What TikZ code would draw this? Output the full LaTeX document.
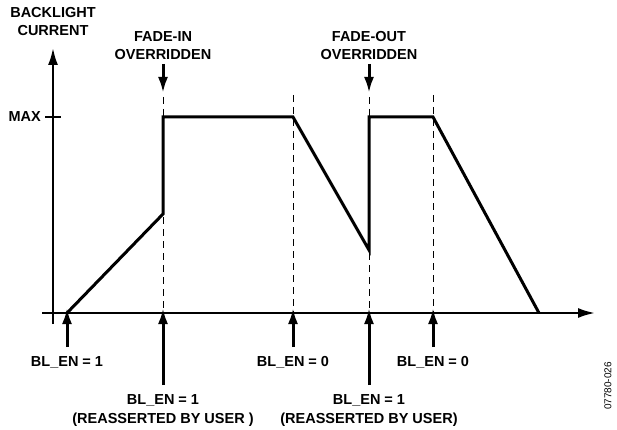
\documentclass[tikz,border=0pt]{standalone}
\usepackage{fontspec}
\setmainfont{Liberation Sans}
\usetikzlibrary{arrows.meta,positioning,calc}
\tikzstyle{lbl} = [font=\bfseries\fontsize{14.5}{19}\selectfont, align=center, inner sep=1pt]
\tikzstyle{curve} = [line width=3pt, line join=miter]
\tikzstyle{axis} = [line width=2.2pt, -{Latex[length=17pt,width=10pt]}]
\tikzstyle{guide} = [line width=1pt, dash pattern=on 7pt off 5pt]
\tikzstyle{marker} = [line width=3pt, -{Latex[length=16pt,width=10pt]}]

\begin{document}
\begin{tikzpicture}[x=1pt, y=-1pt]
    \useasboundingbox (0,0) rectangle (617,430);

    % axes
    \coordinate (ystart) at (53,324);
    \coordinate (ytop) at (53,48);
    \coordinate (xstart) at (42,313);
    \coordinate (xend) at (595,313);
    \draw[axis] (ystart) -- (ytop);
    \draw[axis] (xstart) -- (xend);
    \node[lbl, above=11pt of ytop, font=\bfseries\fontsize{14.5}{18}\selectfont] (ylabel) {BACKLIGHT\\CURRENT};

    \coordinate (maxl) at (45,117);
    \coordinate (maxr) at (61,117);
    \draw[line width=1.2pt] (maxl) -- (maxr);
    \node[lbl, left=3pt of maxl] (maxlabel) {MAX};

    % event times
    \coordinate (t0) at (67,313);
    \coordinate (t1) at (163,313);
    \coordinate (t2) at (293,313);
    \coordinate (t3) at (369,313);
    \coordinate (t4) at (433,313);

    \draw[guide] (163,97) -- (t1);
    \draw[guide] (293,95) -- (t2);
    \draw[guide] (369,97) -- (t3);
    \draw[guide] (433,95) -- (t4);

    % backlight current
    \coordinate (p1) at (163,214);
    \coordinate (p2) at (163,117);
    \coordinate (p3) at (293,117);
    \coordinate (p4) at (369,250);
    \coordinate (p5) at (369,117);
    \coordinate (p6) at (433,117);
    \coordinate (p7) at (539,313);
    \draw[curve] (t0) -- (p1) -- (p2) -- (p3) -- (p4) -- (p5) -- (p6) -- (p7);

    % overrides
    \coordinate (fin) at (163,64);
    \coordinate (fout) at (369,64);
    \draw[marker] (fin) -- (163,93);
    \draw[marker] (fout) -- (369,93);
    \node[lbl, above=3pt of fin, font=\bfseries\fontsize{14.5}{18}\selectfont] (finlabel) {FADE-IN\\OVERRIDDEN};
    \node[lbl, above=3pt of fout, font=\bfseries\fontsize{14.5}{18}\selectfont] (foutlabel) {FADE-OUT\\OVERRIDDEN};

    % BL_EN events
    \coordinate (e0) at (67,347);
    \coordinate (e1) at (163,385);
    \coordinate (e2) at (293,347);
    \coordinate (e3) at (369,385);
    \coordinate (e4) at (433,347);
    \foreach \e/\t in {e0/t0, e1/t1, e2/t2, e3/t3, e4/t4}
        \draw[marker] (\e) -- ($(\t)+(0,-5)$);
    \node[lbl, below=8pt of e0] (en0) {BL\_EN = 1};
    \node[lbl, below=8pt of e1] (en1) {BL\_EN = 1\\(REASSERTED BY USER )};
    \node[lbl, below=8pt of e2] (en2) {BL\_EN = 0};
    \node[lbl, below=8pt of e3] (en3) {BL\_EN = 1\\(REASSERTED BY USER)};
    \node[lbl, below=8pt of e4] (en4) {BL\_EN = 0};

    \node[rotate=90, font=\fontsize{10}{12}\selectfont] (figid) at (608,386) {07780-026};
\end{tikzpicture}
\end{document}
